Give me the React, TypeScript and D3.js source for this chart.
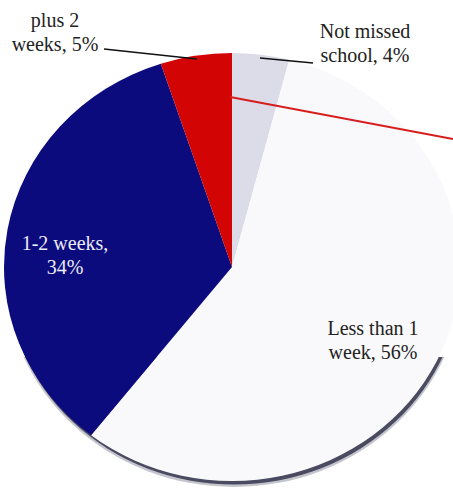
import React, { useLayoutEffect, useRef } from "react";
import * as d3 from "d3";

const categories = ["Not missed school", "Less than 1 week", "1-2 weeks", "plus 2 weeks"];
const values = [4, 56, 34, 5];
const labelLines = [
  ["Not missed", "school, 4%"],
  ["Less than 1", "week, 56%"],
  ["1-2 weeks,", "34%"],
  ["plus 2", "weeks, 5%"],
];
const sliceColors = ["#dcdbe8", "#f9f9fc", "#0b0b7e", "#d20404"];
const labelColors = ["#222222", "#222222", "#ececf4", "#222222"];

const W = 453;
const H = 495;
const cx = 232;
const cy = 267;
const ry = 214;
const rx = 228;

// label layout (centre x, first baseline y)
const labelPos = [
  { x: 365, y: 38 },
  { x: 373, y: 335 },
  { x: 65, y: 250 },
  { x: 55, y: 27 },
];
const leaders = [
  [[260, 58], [313, 63]],
  null,
  null,
  [[104, 49], [197, 59]],
];

const LINE_H = 23.5;

export default function App() {
  const ref = useRef<SVGSVGElement | null>(null);
  const pie = d3.pie<number>().sort(null).value((d) => d);
  const arcs = pie(values);
  const arc = d3.arc<d3.PieArcDatum<number>>().innerRadius(0).outerRadius(ry);
  const line = d3.line();

  useLayoutEffect(() => {
    if (!ref.current) return;
    d3.select(ref.current)
      .selectAll<SVGTextElement, unknown>("text.lbl")
      .style("font-family", "Times New Roman")
      .each(function () {
        const c = +(this.getAttribute("data-cx") || 0);
        const w = this.getComputedTextLength();
        this.setAttribute("x", String(c - w / 2));
      });
  }, []);

  return (
    <svg ref={ref} width={W} height={H} style={{ position: "absolute", left: 0, top: 0 }}>
      <style>{`text.lbl { font-family: "Times New Roman", "Liberation Serif", Tinos, serif; font-size: 20px; }`}</style>
      <rect width={W} height={H} fill="#ffffff" />
      <defs>
        <clipPath id="lower">
          <rect x={0} y={cy + 90} width={W} height={H} />
        </clipPath>
      </defs>
      <g clipPath="url(#lower)">
        <ellipse cx={cx + 2} cy={cy + 5} rx={rx + 1} ry={ry + 1} fill="#8a8a9c" opacity={0.5} />
        <ellipse cx={cx + 2} cy={cy + 3.5} rx={rx} ry={ry} fill="#4a4a60" />
      </g>
      <g transform={`translate(${cx},${cy}) scale(${rx / ry},1)`}>
        {arcs.map((a, i) => (
          <path key={categories[i]} d={arc(a) || ""} fill={sliceColors[i]} />
        ))}
      </g>
      <line x1={230} y1={97} x2={453} y2={139} stroke="#d61e1e" strokeWidth={2} />
      {leaders.map((l, i) =>
        l ? <path key={"l" + i} d={line(l as [number, number][]) || ""} stroke="#111" strokeWidth={1.5} fill="none" /> : null
      )}
      {labelLines.map((lines, i) =>
        lines.map((s, j) => (
          <text
            key={"t" + i + "-" + j}
            className="lbl"
            data-cx={labelPos[i].x}
            x={labelPos[i].x - 45}
            y={labelPos[i].y + j * LINE_H}
            fontFamily="Times New Roman"
            fontSize={20}
            fill={labelColors[i]}
          >
            {s}
          </text>
        ))
      )}
    </svg>
  );
}
